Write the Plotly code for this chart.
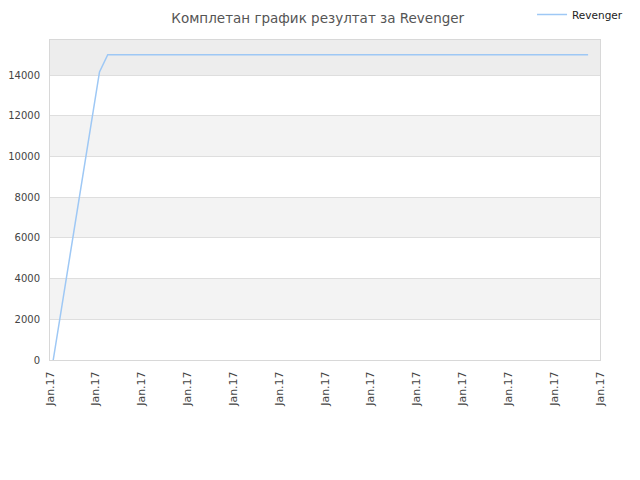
import plotly.graph_objects as go

# series (x in tick units, one unit per "Jan.17" tick)
day_pos = [0.07, 1.08, 1.26, 11.74]
scores = [0, 14150, 15000, 15000]
tick_pos = list(range(13))
tick_labels = ["Jan.17"] * 13
y_ticks = [0, 2000, 4000, 6000, 8000, 10000, 12000, 14000]
y_top = 15720

fig = go.Figure()
fig.add_trace(go.Scatter(x=day_pos, y=scores, mode="lines", name="Revenger",
                         line=dict(color="#9ec8f5", width=1.5)))

# alternating bands
bands = [(2000, 4000), (6000, 8000), (10000, 12000)]
for lo, hi in bands:
    fig.add_shape(type="rect", xref="paper", yref="y", x0=0, x1=1, y0=lo, y1=hi,
                  fillcolor="#f3f3f3", line_width=0, layer="below")
fig.add_shape(type="rect", xref="paper", yref="y", x0=0, x1=1, y0=14000, y1=y_top,
              fillcolor="#ededed", line_width=0, layer="below")

# page body adds ~8px offset, margins compensate
fig.update_layout(
    width=640, height=480,
    paper_bgcolor="white", plot_bgcolor="white",
    font=dict(family="DejaVu Sans", size=11, color="#444"),
    title=dict(text="Комплетан график резултат за Revenger", x=0.484, xanchor="center",
               y=0.979, yanchor="middle", font=dict(size=13.5, color="#555"), automargin=False),
    margin=dict(l=42, r=48, t=32, b=128, autoexpand=False),
    showlegend=True,
    legend=dict(x=1.051, y=1.125, xanchor="right", yanchor="top",
                bgcolor="rgba(0,0,0,0)", itemwidth=30,
                font=dict(size=10.5, color="#222")),
    xaxis=dict(range=[0, 12], tickvals=tick_pos, ticktext=tick_labels, tickangle=-90,
               showgrid=False, zeroline=False, showline=True, linecolor="#d8d8d8",
               mirror=True, ticks="", automargin=False, ticklabelstandoff=6,
               tickfont=dict(size=11, color="#444")),
    yaxis=dict(range=[0, y_top], tickvals=y_ticks, ticktext=[str(v) for v in y_ticks],
               showgrid=True, gridcolor="#dedede", zeroline=False, showline=True,
               linecolor="#d8d8d8", mirror=True, ticks="", automargin=False,
               ticklabelstandoff=7, tickfont=dict(size=10, color="#444")),
)

fig.write_html("out.html")
